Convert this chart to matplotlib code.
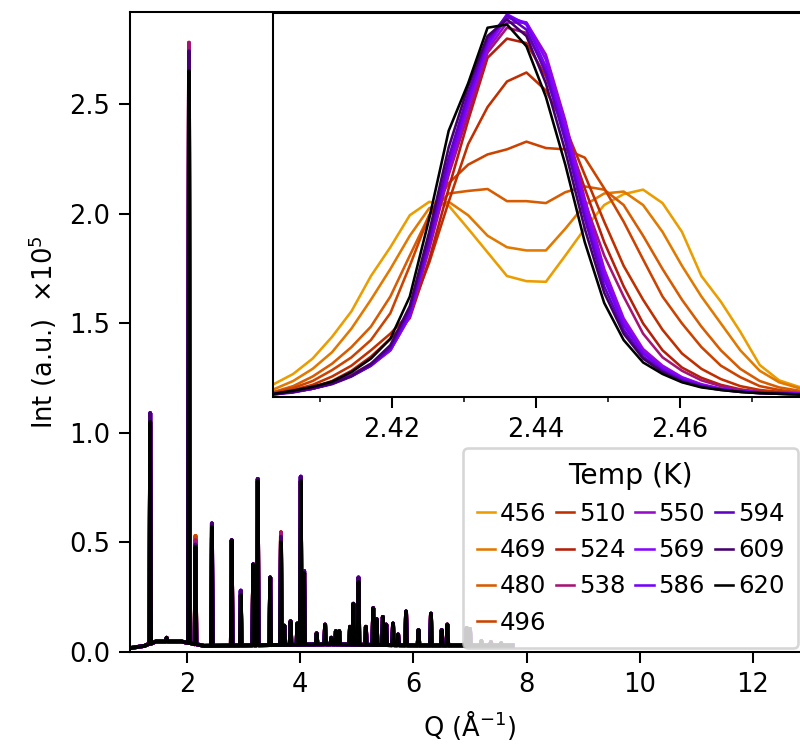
import numpy as np
import matplotlib
matplotlib.use('Agg')
import matplotlib.pyplot as plt

# temperatures (K), one curve each
temps = [456, 469, 480, 496, 510, 524, 538, 550, 569, 586, 594, 609, 620]

# ---- main pattern (x1e5) ----
bg_q = [1.0, 1.25, 1.45, 1.9, 2.3, 3.0, 4.5, 6.0, 7.75]
bg_i = [0.018, 0.028, 0.048, 0.048, 0.028, 0.030, 0.035, 0.030, 0.030]

peak_q = [1.35, 1.64, 2.035, 2.15, 2.44, 2.79, 2.95, 3.17, 3.25, 3.47,
          3.66, 3.72, 3.83, 3.95, 4.01, 4.07, 4.29, 4.44, 4.55, 4.63,
          4.69, 4.88, 4.94, 5.03, 5.16, 5.29, 5.35, 5.46, 5.52, 5.64,
          5.73, 5.87, 6.09, 6.31, 6.50, 6.60, 6.94, 7.00, 7.20, 7.37, 7.55]
peak_h = [1.05, 0.065, 2.65, 0.48, 0.57, 0.51, 0.26, 0.40, 0.78, 0.34,
          0.50, 0.12, 0.14, 0.13, 0.78, 0.36, 0.085, 0.125, 0.065, 0.095,
          0.095, 0.115, 0.22, 0.32, 0.115, 0.20, 0.15, 0.16, 0.125, 0.13,
          0.08, 0.185, 0.10, 0.175, 0.10, 0.125, 0.11, 0.105, 0.05, 0.045, 0.04]

# peak tops that differ from 620 K (low: 456-496, mid: 510-538, high: 550-609)
tips_low = {1.35: 1.03, 2.035: 2.70, 2.15: 0.53, 2.44: 0.32, 3.66: 0.546}
tips_mid = {1.35: 1.05, 2.035: 2.78, 2.15: 0.51, 2.44: 0.52, 3.66: 0.546}
tips_high = {1.35: 1.09, 2.035: 2.74, 2.15: 0.49, 2.44: 0.587, 2.95: 0.28,
             3.25: 0.79, 3.66: 0.525, 4.01: 0.80, 4.07: 0.37, 5.03: 0.34}

# ---- inset: zoom on the 2.44 reflection ----
q_in = [2.4036, 2.4063, 2.4090, 2.4117, 2.4144, 2.4171, 2.4198, 2.4225,
        2.4252, 2.4279, 2.4306, 2.4333, 2.4360, 2.4387, 2.4414, 2.4441,
        2.4468, 2.4495, 2.4522, 2.4549, 2.4576, 2.4603, 2.4630, 2.4657,
        2.4684, 2.4711, 2.4738, 2.4765, 2.4792]

i456 = [0.020, 0.036, 0.060, 0.094, 0.134, 0.189, 0.234, 0.284, 0.305, 0.299,
        0.263, 0.226, 0.189, 0.181, 0.180, 0.221, 0.263, 0.300, 0.317, 0.324,
        0.303, 0.258, 0.189, 0.149, 0.102, 0.050, 0.026, 0.016, 0.011]
i469 = [0.012, 0.025, 0.044, 0.070, 0.107, 0.152, 0.200, 0.252, 0.295, 0.305,
        0.284, 0.252, 0.234, 0.229, 0.229, 0.263, 0.300, 0.318, 0.321, 0.300,
        0.258, 0.205, 0.157, 0.115, 0.073, 0.041, 0.023, 0.014, 0.010]
i480 = [0.008, 0.017, 0.032, 0.052, 0.078, 0.110, 0.157, 0.221, 0.284, 0.318,
        0.322, 0.325, 0.306, 0.306, 0.303, 0.320, 0.329, 0.324, 0.300, 0.252,
        0.200, 0.152, 0.110, 0.073, 0.044, 0.025, 0.015, 0.010, 0.007]
i496 = [0.007, 0.014, 0.025, 0.042, 0.062, 0.089, 0.131, 0.205, 0.284, 0.334,
        0.363, 0.379, 0.387, 0.399, 0.389, 0.387, 0.374, 0.326, 0.274, 0.215,
        0.157, 0.115, 0.078, 0.049, 0.031, 0.017, 0.011, 0.007, 0.005]
i510 = [0.006, 0.011, 0.019, 0.032, 0.049, 0.073, 0.099, 0.131, 0.210, 0.305,
        0.395, 0.453, 0.493, 0.507, 0.479, 0.421, 0.347, 0.274, 0.205, 0.152,
        0.105, 0.068, 0.044, 0.028, 0.017, 0.011, 0.008, 0.006, 0.004]
i524 = [0.005, 0.008, 0.015, 0.025, 0.041, 0.063, 0.091, 0.123, 0.215, 0.326,
        0.432, 0.530, 0.560, 0.553, 0.501, 0.416, 0.326, 0.242, 0.173, 0.115,
        0.073, 0.046, 0.030, 0.019, 0.012, 0.008, 0.006, 0.005, 0.004]
i538 = [0.005, 0.008, 0.013, 0.022, 0.035, 0.052, 0.073, 0.126, 0.231, 0.347,
        0.442, 0.538, 0.577, 0.569, 0.511, 0.411, 0.305, 0.221, 0.157, 0.099,
        0.062, 0.041, 0.026, 0.017, 0.011, 0.008, 0.006, 0.005, 0.004]
i550 = [0.005, 0.008, 0.013, 0.021, 0.033, 0.049, 0.073, 0.126, 0.237, 0.353,
        0.453, 0.543, 0.585, 0.585, 0.535, 0.432, 0.310, 0.200, 0.123, 0.075,
        0.049, 0.031, 0.020, 0.013, 0.010, 0.007, 0.006, 0.005, 0.004]
i569 = [0.005, 0.008, 0.013, 0.021, 0.033, 0.049, 0.073, 0.128, 0.239, 0.358,
        0.458, 0.548, 0.593, 0.585, 0.527, 0.421, 0.300, 0.192, 0.118, 0.071,
        0.046, 0.030, 0.019, 0.013, 0.009, 0.007, 0.006, 0.005, 0.004]
i586 = [0.005, 0.008, 0.013, 0.021, 0.033, 0.050, 0.076, 0.131, 0.242, 0.363,
        0.464, 0.553, 0.598, 0.582, 0.516, 0.411, 0.289, 0.184, 0.112, 0.068,
        0.044, 0.028, 0.018, 0.012, 0.009, 0.007, 0.006, 0.005, 0.004]
i594 = [0.004, 0.007, 0.013, 0.020, 0.032, 0.049, 0.077, 0.136, 0.247, 0.374,
        0.474, 0.559, 0.596, 0.574, 0.506, 0.400, 0.279, 0.173, 0.105, 0.063,
        0.041, 0.026, 0.017, 0.012, 0.008, 0.006, 0.005, 0.004, 0.004]
i609 = [0.004, 0.008, 0.014, 0.021, 0.033, 0.052, 0.081, 0.142, 0.258, 0.390,
        0.485, 0.564, 0.590, 0.564, 0.490, 0.384, 0.263, 0.163, 0.099, 0.060,
        0.039, 0.024, 0.016, 0.011, 0.008, 0.006, 0.005, 0.004, 0.004]
i620 = [0.005, 0.010, 0.016, 0.024, 0.039, 0.060, 0.091, 0.157, 0.279, 0.416,
        0.490, 0.577, 0.582, 0.548, 0.469, 0.363, 0.242, 0.147, 0.089, 0.054,
        0.036, 0.023, 0.015, 0.011, 0.008, 0.006, 0.005, 0.004, 0.004]
inset_curves = [i456, i469, i480, i496, i510, i524, i538, i550, i569, i586,
                i594, i609, i620]


def pattern(tips):
    # stick the peaks onto the background as narrow spikes
    w = 0.015
    pts = list(zip(bg_q, bg_i))
    for q, h in zip(peak_q, peak_h):
        b = np.interp(q, bg_q, bg_i)
        pts += [(q - w, b), (q, tips.get(q, h)), (q + w, b)]
    pts.sort()
    return [p[0] for p in pts], [p[1] for p in pts]


DPI = 185
fig = plt.figure(figsize=(800 / DPI, 750 / DPI), dpi=DPI)
plt.rcParams['font.size'] = 10

colors = plt.get_cmap('gnuplot')(np.linspace(0.85, 0, len(temps)))

ax = fig.add_axes([130.4 / 800, 98 / 750, 679.2 / 800, 640 / 750])
for T, c in zip(temps, colors):
    if T < 510:
        tips = tips_low
    elif T < 550:
        tips = tips_mid
    elif T < 620:
        tips = tips_high
    else:
        tips = {}
    x, y = pattern(tips)
    ax.plot(x, y, color=c, lw=1.5)
ax.set_xlim(1, 13)
ax.set_ylim(0, 2.92)
ax.set_xticks([2, 4, 6, 8, 10, 12])
ax.set_yticks([0.0, 0.5, 1.0, 1.5, 2.0, 2.5])
ax.set_yticklabels(['0.0', '0.5', '1.0', '1.5', '2.0', '2.5'])
ax.tick_params(length=4.3)
ax.set_xlabel('Q (Å$^{-1}$)')
ax.set_ylabel('Int (a.u.)  ×10$^5$')

ins = fig.add_axes([273 / 800, 353 / 750, 550.8 / 800, 384 / 750])
handles = []
for T, c, vals in zip(temps, colors, inset_curves):
    ln, = ins.plot(q_in, vals, color=c, lw=1.0, label=str(T))
    handles.append(ln)
ins.set_xlim(2.4035, 2.48)
ins.set_ylim(0.0, 0.6)
ins.set_yticks([])
ins.set_xticks([2.42, 2.44, 2.46])
ins.set_xticks([2.41, 2.43, 2.45, 2.47], minor=True)
ins.tick_params(which='major', length=4.3)

ax.legend(handles=handles, title='Temp (K)', ncol=4, fontsize=9.5,
          title_fontsize=11, loc='lower right',
          bbox_to_anchor=(798 / 800, 102 / 750),
          bbox_transform=fig.transFigure, borderaxespad=0, borderpad=0.55,
          handlelength=0.75, handletextpad=0.2, columnspacing=0.4)

fig.savefig('out.png', dpi=DPI)
